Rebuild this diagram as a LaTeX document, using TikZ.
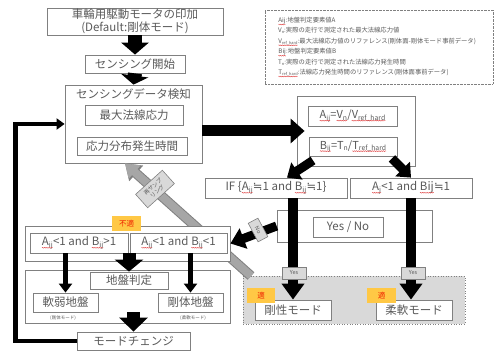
\documentclass[tikz,border=0pt]{standalone}
\usepackage{fontspec}
\setmainfont{Noto Sans CJK JP}
\newfontfamily\djv{DejaVu Sans}
\usepackage{graphicx}
\usetikzlibrary{arrows.meta,decorations.pathmorphing}
\definecolor{txt}{HTML}{5A5A5A}
\definecolor{bd}{HTML}{808080}
\definecolor{gfill}{HTML}{D9D9D9}
\definecolor{garr}{HTML}{A6A6A6}
\definecolor{yel}{HTML}{FFC845}
\definecolor{tagred}{HTML}{F02000}
\definecolor{wav}{HTML}{E04040}
\newcommand\lsub[1]{\raisebox{-0.3ex}{\scalebox{0.62}{#1}}}
\newcommand\ap{{\djv ≒}}
\newcommand\rw[1]{\tikz[baseline=(wv.base)]{\node[draw=none, fill=none, minimum width=0pt,
  minimum height=0pt, inner sep=0pt, outer sep=0pt, rotate=0, align=none](wv){#1};
  \draw[wav, line width=0.35pt, decorate, decoration={snake, amplitude=0.45pt, segment length=1.8pt}]
  ([yshift=-2pt]wv.base west) -- ([yshift=-2pt]wv.base east);}}
\begin{document}
\begin{tikzpicture}[x=1pt,y=-1pt,
  box/.style={draw=bd, line width=0.8pt, fill=white, inner sep=0pt, text=txt,
    font=\fontsize{11.5}{13.5}\selectfont, align=center},
  plain/.style={inner sep=0pt, text=txt, font=\fontsize{11.5}{13.5}\selectfont},
  tag/.style={fill=yel, text=tagred, inner sep=0pt, font=\fontsize{7.5}{8}\selectfont},
  glab/.style={draw=bd, line width=0.6pt, fill=gfill, inner sep=0pt, text=txt,
    font=\fontsize{5.5}{6.5}\selectfont, align=center},
  fat/.style args={#1/#2/#3}{draw=black, line width=#1, -{Triangle[width=#2,length=#3]}},
]
\useasboundingbox (0,0) rectangle (496,352);

% legend
\node[draw=bd, line width=0.5pt, dash pattern=on 0.7pt off 0.7pt,
  minimum width=228pt, minimum height=74pt, inner sep=0pt] (legend) at (379,47) {};
\node[anchor=north west, inner sep=0pt, align=left, text=txt,
  font=\fontsize{6.3}{10.4}\selectfont] (legtext) at (278,17) {%
\rw{Aij}:地盤判定要素値A\\
V\lsub{n}:実際の走行で測定された最大法線応力値\\
\rw{V\lsub{ref\_hard}}:最大法線応力値のリファレンス(剛体面-剛体モード事前データ)\\
\rw{Bij}:地盤判定要素値B\\
T\lsub{n}:実際の走行で測定された法線応力発生時間\\
\rw{T\lsub{ref\_hard}}:法線応力発生時間のリファレンス(剛体面事前データ)};

% gray zone
\node[draw=bd, line width=0.6pt, dotted, fill=gfill, minimum width=222pt,
  minimum height=48pt, inner sep=0pt] (zone) at (354,300) {};

% sensing boxes
\node[box, minimum width=176pt, minimum height=27pt] (top) at (135,21.5)
  {車輪用駆動モータの印加\\(Default:剛体モード)};
\node[box, minimum width=100pt, minimum height=18pt] (start) at (135,64) {センシング開始};
\node[box, minimum width=137pt, minimum height=78pt] (sense) at (133.5,124) {};
\node[plain] (senset) at (133.5,94) {センシングデータ検知};
\node[box, minimum width=98pt, minimum height=20pt] (maxs) at (134,115) {最大法線応力};
\node[box, minimum width=110pt, minimum height=18pt] (time) at (132,146) {応力分布発生時間};

% gray re-sampling arrow
\coordinate (gtail) at (251,276);
\draw[draw=bd, line width=10pt, -{Triangle[width=20pt,length=15pt]}]
  (gtail) -- ([xshift=-8.5pt]sense.south);
\draw[draw=garr, line width=8pt, -{Triangle[width=17pt,length=13pt]}]
  (gtail) -- ([xshift=-8.5pt]sense.south);

% calc boxes
\node[box, minimum width=118pt, minimum height=70pt] (calc) at (356,131) {};
\node[box, minimum width=89pt, minimum height=20pt, font=\fontsize{11}{13}\selectfont] (aeq) at (352.5,116)
  {\rw{A\lsub{ij}}=\rw{V\lsub{n}}/\rw{V\lsub{ref\_hard}}};
\node[box, minimum width=88pt, minimum height=19pt, font=\fontsize{11}{13}\selectfont] (beq) at (353,146.5)
  {\rw{B\lsub{ij}}=T\lsub{n}/\rw{T\lsub{ref\_hard}}};
\node[box, minimum width=142pt, minimum height=20pt] (ifb) at (276,188)
  {IF \{\rw{A\lsub{ij}}\ap1 and \rw{B\lsub{ij}}\ap1\}};
\node[box, minimum width=122pt, minimum height=20pt] (abx) at (411,188)
  {\rw{A\lsub{j}}<1 and \rw{Bij}\ap1};
\node[box, minimum width=155pt, minimum height=32pt] (ynout) at (354.5,226) {};
\node[box, minimum width=70pt, minimum height=20pt] (yn) at (348,227) {Yes / No};

% mode boxes
\node[box, minimum width=76pt, minimum height=20pt] (rmode) at (293,310) {剛性モード};
\node[box, minimum width=76pt, minimum height=20pt] (smode) at (414,310) {柔軟モード};

% unsuitable / ground boxes
\node[box, minimum width=205pt, minimum height=35pt] (fut) at (127.5,243.5) {};
\node[box, minimum width=98pt, minimum height=20pt] (fa) at (79,243)
  {\rw{A\lsub{ij}}<1 and \rw{B\lsub{ij}}>1};
\node[box, minimum width=97pt, minimum height=20pt] (fb) at (178.5,243)
  {\rw{A\lsub{ij}}<1 and \rw{B\lsub{ij}}<1};
\node[box, minimum width=205pt, minimum height=53pt] (grd) at (127.5,296.5) {};
\node[box, minimum width=78pt, minimum height=17pt] (gj) at (129,280.5) {地盤判定};
\node[box, minimum width=65pt, minimum height=19pt] (sg) at (65.5,302.5) {軟弱地盤};
\node[box, minimum width=65pt, minimum height=19pt] (rg) at (190.5,302.5) {剛体地盤};
\node[plain, font=\fontsize{4.5}{5}\selectfont] (sgn) at (63,318) {(剛体モード)};
\node[plain, font=\fontsize{4.5}{5}\selectfont] (rgn) at (193,318) {(柔軟モード)};
\node[box, minimum width=113pt, minimum height=18pt] (mc) at (133.5,341) {モードチェンジ};

% black arrows
\draw[fat=14pt/27pt/12pt] (top.south) -- (start.north);
\draw[fat=14pt/27pt/9pt] (start.south) -- (sense.north);
\draw[fat=11pt/24pt/14pt] (sense.east |- calc.west) -- ([xshift=8pt]calc.west);
\draw[fat=9pt/20pt/12pt] ([shift={(-43,-6)}]calc.south) -- ([shift={(11,0)}]ifb.north);
\draw[fat=9pt/20pt/12pt] ([shift={(36,-8)}]calc.south) -- (abx.north);
\draw[fat=10pt/22pt/16pt] (ifb.south -| rmode.north) -- (rmode.north);
\draw[fat=10pt/22pt/16pt] (abx.south) -- (abx.south |- smode.north);
\draw[fat=9pt/21pt/14pt] (ynout.west) -- (fut.east);
\draw[fat=13pt/28pt/12pt] (gj.north |- fb.south) -- (gj.north);
\draw[fat=13pt/28pt/14pt] (mc.north |- sg.south) -- (mc.north);
\draw[fat=5pt/13pt/9pt] (fa.south -| sg.north) -- (sg.north);
\draw[fat=5pt/13pt/9pt] (fb.south -| rg.north) -- (rg.north);
\coordinate (fbx) at (15.5,0);
\draw[draw=black, line width=4.5pt, line join=miter, -{Triangle[width=11pt,length=8pt]}]
  (mc.west) -- (mc.west -| fbx) -- (sense.west -| fbx) -- (sense.west);

% labels
\node[tag, minimum width=29pt, minimum height=15pt] (ng) at (126.5,223.5) {不適};
\node[tag, minimum width=28pt, minimum height=15pt] (ok1) at (261,295.5) {適};
\node[tag, minimum width=29pt, minimum height=15pt] (ok2) at (381.5,295.5) {適};
\node[glab, minimum width=24pt, minimum height=12pt] (y1) at (294,273) {Yes};
\node[glab, minimum width=24pt, minimum height=12pt] (y2) at (413,273) {Yes};
\node[glab, rotate=-62, minimum width=21pt, minimum height=11pt] (nol) at (258,230) {No};
\node[glab, rotate=42, minimum width=36pt, minimum height=18pt] (rsl) at (155,189) {再サンプ\\リング};
\end{tikzpicture}
\end{document}
